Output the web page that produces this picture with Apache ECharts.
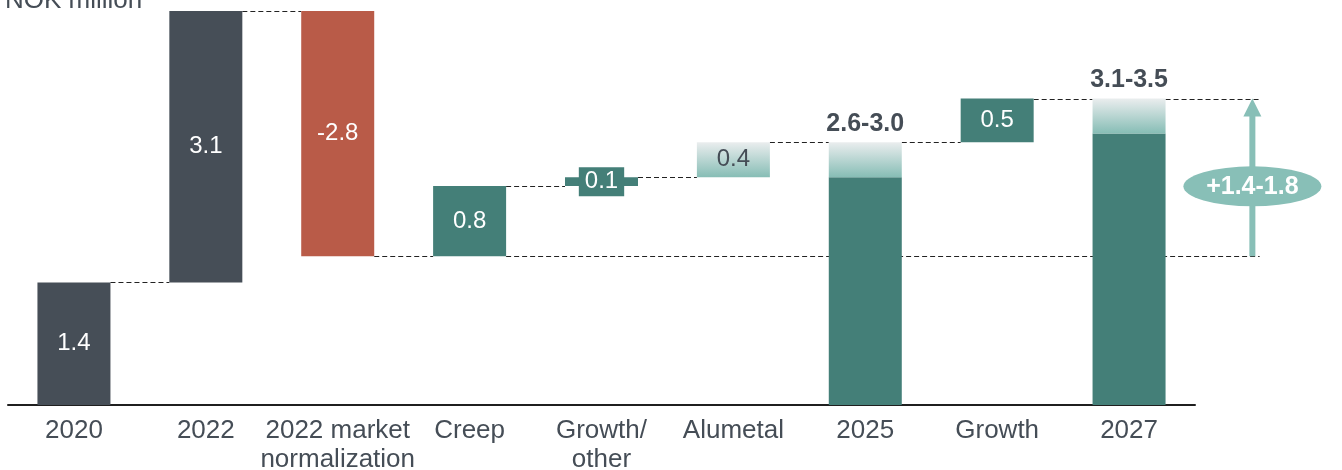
<!DOCTYPE html>
<html>
<head>
<meta charset="utf-8">
<script src="https://cdn.jsdelivr.net/npm/echarts@6/dist/echarts.min.js"></script>
<style>
html,body{margin:0;padding:0;background:#fff;}
#chart{width:1342px;height:470px;}
</style>
</head>
<body>
<div id="chart"></div>
<script>
// ---------- data ----------
const categories = ['2020', '2022', '2022 market\nnormalization', 'Creep', 'Growth/\nother', 'Alumetal', '2025', 'Growth', '2027'];
// lower edge of each floating bar (NOK million)
const barStart = [0, 1.4, 1.7, 1.7, 2.5, 2.6, 0, 3.0, 0];
// solid part of each bar
const solidSize = [1.4, 3.1, 2.8, 0.8, 0.1, 0, 2.6, 0.5, 3.1];
// shaded (range / uncertain) part on top
const rangeSize = [0, 0, 0, 0, 0, 0.4, 0.4, 0, 0.4];
const valueLabels = ['1.4', '3.1', '-2.8', '0.8', '0.1', '0.4', '2.6-3.0', '0.5', '3.1-3.5'];
const barKinds = ['actual', 'actual', 'decrease', 'increase', 'increase', 'range', 'total', 'increase', 'total'];
// connectors: [from category, level, to category (-1 = to right edge)]
const connectors = [[0, 1.4, 1], [1, 4.5, 2], [2, 1.7, 3], [3, 1.7, -1], [3, 2.5, 4], [4, 2.6, 5], [5, 3.0, 6], [6, 3.0, 7], [7, 3.5, 8], [8, 3.5, -1]];
// total uplift arrow: [category, from, to]
const uplift = [[8, 1.7, 3.5]];
const upliftLabel = '+1.4-1.8';
const unitLabel = 'NOK million';

// ---------- styles ----------
const FONT = '"Liberation Sans", Arial, sans-serif';
const TXT = '#454d56';
const COL = { actual: '#464e57', decrease: '#b95b48', increase: '#447f78', total: '#447f78', light: '#88bfb7' };
const BAR_W = 73;
const grad = () => ({ type: 'linear', x: 0, y: 0, x2: 0, y2: 1,
  colorStops: [{ offset: 0, color: '#eaedee' }, { offset: 1, color: '#86bdb5' }] });

const solidData = solidSize.map((v, i) => {
  if (!v) return '-';
  const item = { value: v, itemStyle: { color: COL[barKinds[i]] } };
  if (barKinds[i] === 'total') {
    item.label = { show: false };
  } else if (v < 0.3) {
    item.label = { show: true, position: 'inside', formatter: valueLabels[i], backgroundColor: COL[barKinds[i]], padding: [3, 6, 2, 6] };
  } else {
    item.label = { show: true, position: 'inside', formatter: valueLabels[i] };
  }
  return item;
});
const rangeData = rangeSize.map((v, i) => {
  if (!v) return '-';
  const item = { value: v, itemStyle: { color: grad() } };
  if (barKinds[i] === 'total') {
    item.label = { show: true, position: 'top', distance: 6, formatter: valueLabels[i], fontSize: 25, fontWeight: 'bold', color: TXT };
  } else {
    item.label = { show: true, position: 'inside', formatter: valueLabels[i], color: TXT, fontSize: 24 };
  }
  return item;
});

const chart = echarts.init(document.getElementById('chart'), null, { renderer: 'canvas' });
const option = {
  animation: false,
  backgroundColor: '#fff',
  textStyle: { fontFamily: FONT },
  grid: { left: 8, right: 147, top: 11, bottom: 65, containLabel: false, outerBoundsMode: 'none' },
  graphic: [{
    type: 'text', x: 5, y: 1,
    style: { text: unitLabel, fontSize: 26, fontFamily: FONT, fill: TXT, verticalAlign: 'middle' }
  }],
  xAxis: {
    type: 'category', data: categories,
    axisTick: { show: false },
    axisLine: { lineStyle: { color: '#1f1f1f', width: 2 } },
    axisLabel: { interval: 0, margin: 11, fontSize: 26, lineHeight: 29, color: TXT, fontFamily: FONT }
  },
  yAxis: { type: 'value', min: 0, max: 4.5, show: false },
  series: [
    {
      type: 'custom', name: 'connectors', z: 1, clip: false, silent: true,
      encode: { x: 0, y: 1 },
      data: connectors,
      renderItem: function (params, api) {
        const from = api.value(0), lvl = api.value(1), to = api.value(2);
        const band = api.size([1, 0])[0];
        const p = api.coord([from, lvl]);
        const x1 = p[0] + BAR_W / 2;
        let x2;
        if (to < 0) x2 = api.coord([categories.length - 1, lvl])[0] + band * 0.99;
        else x2 = api.coord([to, lvl])[0] - BAR_W / 2;
        const y = Math.round(p[1]) + 0.5;
        return { type: 'line', shape: { x1: x1, y1: y, x2: x2, y2: y },
          style: { stroke: '#222', lineWidth: 1, lineDash: [5, 3] } };
      }
    },
    {
      type: 'bar', name: 'base', stack: 'w', barWidth: BAR_W, z: 2, silent: true,
      itemStyle: { color: 'rgba(0,0,0,0)' },
      data: barStart
    },
    {
      type: 'bar', name: 'solid', stack: 'w', barWidth: BAR_W, z: 3,
      label: { color: '#fff', fontSize: 24, fontFamily: FONT },
      data: solidData
    },
    {
      type: 'bar', name: 'range', stack: 'w', barWidth: BAR_W, z: 3,
      label: { fontFamily: FONT },
      data: rangeData
    },
    {
      type: 'custom', name: 'uplift', z: 4, clip: false, silent: true,
      encode: { x: 0, y: 1 },
      data: uplift,
      renderItem: function (params, api) {
        const c = api.value(0), lo = api.value(1), hi = api.value(2);
        const band = api.size([1, 0])[0];
        const pB = api.coord([c, lo]), pT = api.coord([c, hi]);
        const ax = pB[0] + band * 0.935;
        const cy = (pB[1] + pT[1]) / 2 + 9;
        const color = '#88bfb7';
        return {
          type: 'group',
          children: [
            { type: 'rect', shape: { x: ax - 3, y: pT[1] + 16, width: 6, height: pB[1] - pT[1] - 16 }, style: { fill: color } },
            { type: 'polygon', shape: { points: [[ax, pT[1]], [ax - 9, pT[1] + 18], [ax + 9, pT[1] + 18]] }, style: { fill: color } },
            { type: 'circle', x: ax, y: cy, scaleX: 3.45, scaleY: 1, shape: { cx: 0, cy: 0, r: 20 }, style: { fill: color } },
            { type: 'text', x: ax, y: cy + 1, style: { text: upliftLabel, fill: '#fff', fontSize: 25, fontWeight: 'bold', fontFamily: FONT, align: 'center', verticalAlign: 'middle' } }
          ]
        };
      }
    }
  ]
};
chart.setOption(option);
</script>
</body>
</html>
